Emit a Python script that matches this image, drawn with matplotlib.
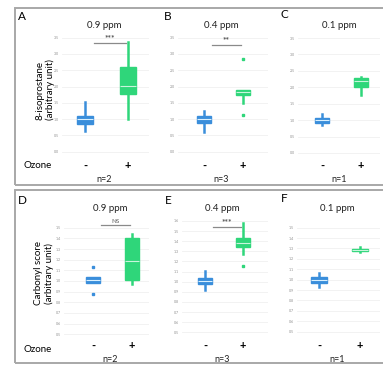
import matplotlib
matplotlib.use("Agg")
import matplotlib.pyplot as plt
from matplotlib.patches import Rectangle

plt.rcParams["font.family"] = ["Lato", "DejaVu Sans"]

W, H = 383, 367
BLUE = "#3a8edb"
GREEN = "#2fd67a"

# five-number summaries: whislo, q1, median, q3, whishi
panels = ["A", "B", "C", "D", "E", "F"]
titles = ["0.9 ppm", "0.4 ppm", "0.1 ppm", "0.9 ppm", "0.4 ppm", "0.1 ppm"]
n_labels = ["n=2", "n=3", "n=1"]
control = [
    [0.64, 0.84, 0.99, 1.11, 1.53],
    [0.61, 0.87, 0.99, 1.09, 1.24],
    [0.85, 0.92, 1.00, 1.08, 1.18],
    [0.984, 0.984, 1.01, 1.034, 1.034],
    [0.92, 0.98, 1.01, 1.04, 1.11],
    [0.93, 0.965, 1.00, 1.03, 1.06],
]
control_fliers = [[], [], [], [1.13, 0.88], [], []]
ozone = [
    [0.99, 1.78, 2.03, 2.59, 3.37],
    [1.49, 1.73, 1.83, 1.90, 1.90],
    [1.77, 2.02, 2.18, 2.27, 2.31],
    [0.97, 1.01, 1.19, 1.40, 1.44],
    [1.27, 1.34, 1.38, 1.43, 1.58],
    [1.27, 1.275, 1.285, 1.295, 1.31],
]
ozone_fliers = [[], [2.84, 1.14], [], [], [1.16], []]
signif = ["***", "**", None, "NS", "***", None]
sig_level = [3.35, 3.29, None, 1.525, 1.545, None]
ticks_top = [0.0, 0.5, 1.0, 1.5, 2.0, 2.5, 3.0, 3.5]
ticks_d = [0.5, 0.6, 0.7, 0.8, 0.9, 1.0, 1.1, 1.2, 1.3, 1.4, 1.5]
ticks_e = ticks_d + [1.6]
yticks = [ticks_top, ticks_top, ticks_top, ticks_d, ticks_e, ticks_d]

# pixel layout: left, right, blue centre, green centre, (tick value, y px) x2
layout = [
    (62, 149, 85, 128, 3.5, 37.7, 0.0, 151.7),
    (178, 268, 204, 243, 3.5, 37.7, 0.0, 151.7),
    (298, 380, 322, 361, 3.5, 38.0, 0.0, 153.0),
    (64, 149, 93, 132, 1.5, 227.7, 0.5, 334.3),
    (182, 268, 205, 243, 1.6, 221.0, 0.5, 332.3),
    (297, 380, 319, 360, 1.5, 227.7, 0.5, 331.7),
]


def stats(v, fl):
    return dict(whislo=v[0], q1=v[1], med=v[2], q3=v[3], whishi=v[4], fliers=fl)


fig = plt.figure(figsize=(W / 100, H / 100), dpi=100)

# panel frames
for y0, y1 in [(8, 185), (190, 363)]:
    fig.add_artist(Rectangle((15 / W, 1 - y1 / H), 1.2, (y1 - y0) / H,
                             transform=fig.transFigure, fill=False,
                             edgecolor="#a8a8a8", lw=1.4))

for i in range(6):
    L, R, b, g, v_hi, y_hi, v_lo, y_lo = layout[i]
    unit = g - b
    xlo = 1 - (b - L) / unit
    xhi = 2 + (R - g) / unit
    ppu = (y_lo - y_hi) / (v_hi - v_lo)
    top_v = v_hi + 0.05 * (v_hi - v_lo) / 3.5 if i < 3 else v_hi + 0.02
    bot_v = v_lo - 0.05 * (v_hi - v_lo) / 3.5 if i < 3 else v_lo - 0.02
    top_px = y_hi - (top_v - v_hi) * ppu
    bot_px = y_lo + (v_lo - bot_v) * ppu
    ax = fig.add_axes([L / W, 1 - bot_px / H, (R - L) / W, (bot_px - top_px) / H])
    ax.set_xlim(xlo, xhi)
    ax.set_ylim(bot_v, top_v)

    res = ax.bxp([stats(control[i], control_fliers[i]), stats(ozone[i], ozone_fliers[i])],
                 positions=[1, 2], widths=0.38, patch_artist=True,
                 showcaps=False, manage_ticks=False)
    for k, col in enumerate([BLUE, GREEN]):
        res["boxes"][k].set_facecolor(col)
        res["boxes"][k].set_edgecolor(col)
        res["medians"][k].set_color("#d8f0ff" if k == 0 else "#c8f5dc")
        res["medians"][k].set_linewidth(0.8)
        for w in res["whiskers"][2 * k:2 * k + 2]:
            w.set_color(col)
            w.set_linewidth(1.8)
        res["fliers"][k].set_marker("s")
        res["fliers"][k].set_markersize(1.5)
        res["fliers"][k].set_markerfacecolor(col)
        res["fliers"][k].set_markeredgecolor(col)

    ax.set_yticks(yticks[i])
    ax.set_yticklabels([f"{t:.1f}" for t in yticks[i]], fontsize=2.6, color="#909090")
    ax.tick_params(axis="y", length=0, pad=2)
    ax.set_xticks([])
    ax.grid(axis="y", color="#f0f0f0", lw=0.6)
    ax.set_axisbelow(True)
    for s in ax.spines.values():
        s.set_visible(False)

    if signif[i]:
        lv = sig_level[i]
        ax.plot([1.2, 1.95], [lv, lv], color="#8a8a8a", lw=0.9, clip_on=False)
        off = (top_v - bot_v) * 0.012
        ax.text(1.575, lv + off, signif[i], ha="center", va="bottom",
                fontsize=4.5 if signif[i] == "NS" else 6, color="#555555",
                fontweight="bold" if signif[i] != "NS" else "normal")

    title_y = 25 if i < 3 else 208
    fig.text(((b + g) / 2 - 2) / W, 1 - title_y / H, titles[i], ha="center", va="center",
             fontsize=7, color="#222222")
    pm_y = 166 if i < 3 else 346
    fig.text(b / W, 1 - pm_y / H, "-", ha="center", va="center", fontsize=8, fontweight="bold")
    fig.text(g / W, 1 - pm_y / H, "+", ha="center", va="center", fontsize=8, fontweight="bold")
    n_y = 180 if i < 3 else 360
    fig.text(((b + g) / 2 - 2) / W, 1 - n_y / H, n_labels[i % 3], ha="center", va="center",
             fontsize=6.5, color="#222222")

letter_pos = [(22, 17), (168, 17), (284, 14), (22, 200), (168, 200), (284, 199)]
for k, (x, y) in enumerate(letter_pos):
    fig.text(x / W, 1 - y / H, panels[k], ha="center", va="center", fontsize=8.5)

fig.text(45 / W, 1 - 90 / H, "8-isoprostane\n(arbitrary unit)", rotation=90,
         ha="center", va="center", fontsize=7, linespacing=1.1)
fig.text(44 / W, 1 - 273 / H, "Carbonyl score\n(arbitrary unit)", rotation=90,
         ha="center", va="center", fontsize=7, linespacing=1.1)
fig.text(38 / W, 1 - 166 / H, "Ozone", ha="center", va="center", fontsize=7)
fig.text(38 / W, 1 - 350 / H, "Ozone", ha="center", va="center", fontsize=7)

fig.savefig("out.png", dpi=100)
